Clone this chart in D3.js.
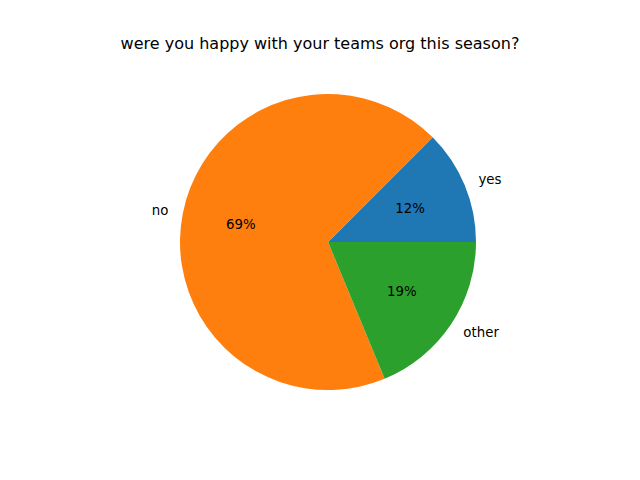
<!DOCTYPE html>
<html>
<head>
<meta charset="utf-8">
<script src="https://cdn.jsdelivr.net/npm/d3@7"></script>
<style>
  body { margin: 0; background: #fff; }
  text { font-family: "DejaVu Sans", sans-serif; fill: #000; }
</style>
</head>
<body>
<div class="chart"></div>
<script>
var width = 640;
var height = 480;

// data
var labels = ["yes", "no", "other"];
var counts = [2, 11, 3];
var colors = ["#1f77b4", "#ff7f0e", "#2ca02c"];
var title = "were you happy with your teams org this season?";

var cx = 328, cy = 242, radius = 148;

var svg = d3.select('.chart').append('svg')
	.attr('width', width)
	.attr('height', height);

svg.append('text')
	.attr('x', 320)
	.attr('y', 49)
	.attr('text-anchor', 'middle')
	.attr('font-size', 16)
	.text(title);

// matplotlib starts at 3 o'clock and goes counterclockwise
var pie = d3.pie()
	.sort(null)
	.startAngle(Math.PI / 2)
	.endAngle(Math.PI / 2 - 2 * Math.PI);

var slices = pie(counts);
var total = d3.sum(counts);

var arc = d3.arc().innerRadius(0).outerRadius(radius);
var labelArc = d3.arc().innerRadius(radius * 1.1).outerRadius(radius * 1.1);
var pctArc = d3.arc().innerRadius(radius * 0.6).outerRadius(radius * 0.6);

var g = svg.append('g').attr('transform', 'translate(' + cx + ',' + cy + ')');

g.selectAll('path.slice').data(slices).enter().append('path')
	.attr('class', 'slice')
	.attr('d', arc)
	.attr('fill', (d, i) => colors[i]);

g.selectAll('text.label').data(slices).enter().append('text')
	.attr('class', 'label')
	.attr('transform', d => 'translate(' + labelArc.centroid(d) + ')')
	.attr('text-anchor', d => labelArc.centroid(d)[0] >= 0 ? 'start' : 'end')
	.attr('dominant-baseline', 'central')
	.attr('font-size', 13.33)
	.text((d, i) => labels[i]);

g.selectAll('text.pct').data(slices).enter().append('text')
	.attr('class', 'pct')
	.attr('transform', d => 'translate(' + pctArc.centroid(d) + ')')
	.attr('text-anchor', 'middle')
	.attr('dominant-baseline', 'central')
	.attr('font-size', 13.33)
	.text(d => {
		// round half to even like python's %1.0f
		var p = d.value / total * 100;
		var r = Math.round(p);
		if (Math.abs(p - Math.floor(p) - 0.5) < 1e-9) r = Math.floor(p) % 2 == 0 ? Math.floor(p) : Math.ceil(p);
		return r + '%';
	});
</script>
</body>
</html>
